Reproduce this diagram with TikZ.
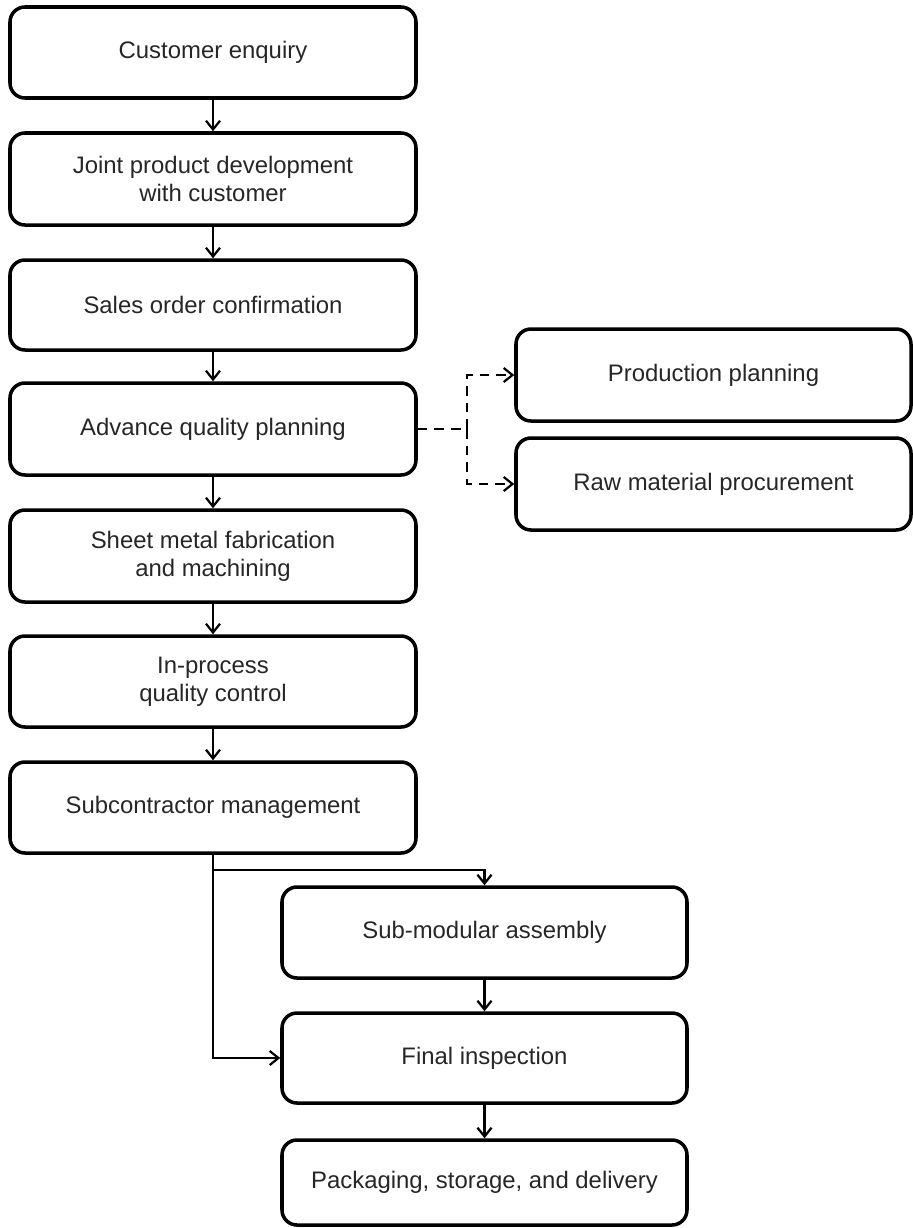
\documentclass[tikz,border=0pt]{standalone}
\usepackage{fontspec}
\setmainfont{Liberation Sans}
\usetikzlibrary{arrows.meta}
\begin{document}
\begin{tikzpicture}[x=0.02cm,y=-0.02cm,
  box/.style={draw, line width=2pt, rounded corners=0.3cm, align=center,
    minimum width=406*0.02cm, minimum height=91*0.02cm, inner sep=0pt,
    font=\fontsize{13.6}{16}\selectfont, text=black!85},
  flow/.style={line width=1.25pt, -{Straight Barb[length=5pt,width=8pt,line width=1.25pt]}},
  dflow/.style={flow, dash pattern=on 5.5pt off 4pt}]
\useasboundingbox (0,0) rectangle (913,1228);
\node[box] (b1) at (213,52.5) {Customer enquiry};
\node[box, minimum height=92*0.02cm] (b2) at (213,179) {Joint product development\\with customer};
\node[box, minimum height=90*0.02cm] (b3) at (213,305) {Sales order confirmation};
\node[box, minimum height=92*0.02cm] (b4) at (213,429) {Advance quality planning};
\node[box, minimum height=92*0.02cm] (b5) at (213,556) {Sheet metal fabrication\\and machining};
\node[box] (b6) at (213,681.5) {In-process\\quality control};
\node[box] (b7) at (213,807.5) {Subcontractor management};
\node[box, minimum width=395*0.02cm, minimum height=92*0.02cm] (pp) at (713.5,375) {Production planning};
\node[box, minimum width=395*0.02cm, minimum height=92*0.02cm] (rm) at (713.5,484) {Raw material procurement};
\node[box, minimum width=405*0.02cm] (sm) at (484.5,932.5) {Sub-modular assembly};
\node[box, minimum width=405*0.02cm, minimum height=90*0.02cm] (fi) at (484.5,1058) {Final inspection};
\node[box, minimum width=405*0.02cm, minimum height=85*0.02cm] (pk) at (484.5,1182.5) {Packaging, storage, and delivery};
\draw[flow] (b1) -- (b2);
\draw[flow] (b2) -- (b3);
\draw[flow] (b3) -- (b4);
\draw[flow] (b4) -- (b5);
\draw[flow] (b5) -- (b6);
\draw[flow] (b6) -- (b7);
\coordinate (dj) at (467,429);
\draw[line width=1.25pt, dash pattern=on 5.5pt off 4pt] (b4.east) -- (dj);
\draw[dflow] (dj) |- (pp.west);
\draw[dflow] (dj) |- (rm.west);
\coordinate (br) at (213,870);
\draw[flow] (b7.south) |- (fi.west);
\draw[flow] (br) -| (sm.north);
\draw[flow] (sm) -- (fi);
\draw[flow] (fi) -- (pk);
\end{tikzpicture}
\end{document}
